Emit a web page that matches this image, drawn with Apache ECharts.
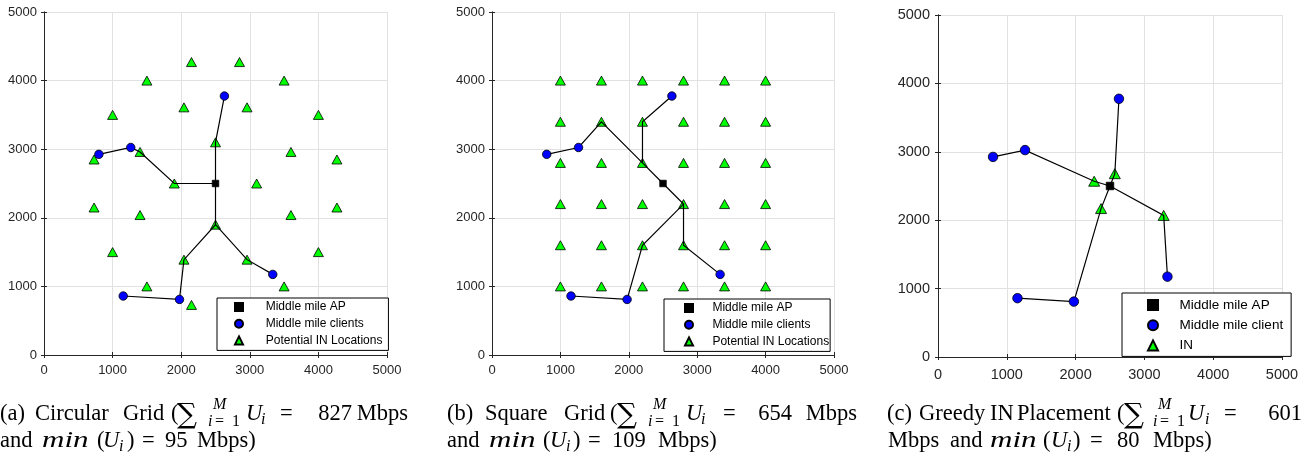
<!DOCTYPE html>
<html><head><meta charset="utf-8">
<script src="https://cdn.jsdelivr.net/npm/echarts@6/dist/echarts.min.js"></script>
<style>html,body{margin:0;padding:0;background:#fff}#c{width:1307px;height:456px}</style>
</head><body><div id="c"></div>
<script>
// ---------------- data ----------------
const axisTicks = [0, 1000, 2000, 3000, 4000, 5000];
const apPos = [[2500, 2500]];
const clientPos = [[2630, 3775], [1265, 3025], [800, 2925], [3335, 1175], [1155, 860], [1975, 810]];

const circularIN = [
  [2150, 4270], [2850, 4270], [1500, 4000], [3500, 4000], [1000, 3500], [4000, 3500],
  [2040, 3610], [2960, 3610], [2500, 3100], [1400, 2960], [3600, 2960], [730, 2850],
  [4270, 2850], [1900, 2500], [3100, 2500], [730, 2150], [4270, 2150], [1400, 2040],
  [3600, 2040], [2500, 1900], [1000, 1500], [4000, 1500], [2040, 1390], [2960, 1390],
  [1500, 1000], [3500, 1000], [2150, 730], [2850, 730]
];
const circularLinks = [
  [[2500, 2500], [1900, 2500], [1400, 2960], [1265, 3025], [800, 2925]],
  [[2500, 2500], [2500, 3100], [2630, 3775]],
  [[2500, 2500], [2500, 1900], [2040, 1390], [1975, 810], [1155, 860]],
  [[2500, 1900], [2960, 1390], [3335, 1175]]
];

const squareIN = [
  [1000, 1000], [1600, 1000], [2200, 1000], [2800, 1000], [3400, 1000], [4000, 1000],
  [1000, 1600], [1600, 1600], [2200, 1600], [2800, 1600], [3400, 1600], [4000, 1600],
  [1000, 2200], [1600, 2200], [2200, 2200], [2800, 2200], [3400, 2200], [4000, 2200],
  [1000, 2800], [1600, 2800], [2200, 2800], [2800, 2800], [3400, 2800], [4000, 2800],
  [1000, 3400], [1600, 3400], [2200, 3400], [2800, 3400], [3400, 3400], [4000, 3400],
  [1000, 4000], [1600, 4000], [2200, 4000], [2800, 4000], [3400, 4000], [4000, 4000]
];
const squareLinks = [
  [[800, 2925], [1265, 3025], [1600, 3400], [2200, 2800], [2500, 2500]],
  [[2200, 2800], [2200, 3400], [2630, 3775]],
  [[2500, 2500], [2800, 2200], [2200, 1600], [1975, 810], [1155, 860]],
  [[2800, 2200], [2800, 1600], [3335, 1175]]
];

const greedyIN = [[2270, 2570], [2570, 2680], [2370, 2170], [3280, 2070]];
const greedyLinks = [
  [[800, 2925], [1265, 3025], [2270, 2570], [2500, 2500], [3280, 2070], [3335, 1175]],
  [[1155, 860], [1975, 810], [2370, 2170], [2500, 2500]],
  [[2500, 2500], [2570, 2680], [2630, 3775]]
];

const namesAB = ['Middle mile AP', 'Middle mile clients', 'Potential IN Locations'];
const namesC = ['Middle mile AP', 'Middle mile client', 'IN'];

// captions: [text, x, kind, align]
const captionA1 = [['(a)', 0, 'rm'], ['Circular', 35, 'rm'], ['Grid', 123, 'rm'], ['(', 171, 'rm'], ['\u2211', 177, 'sum'],
  ['M', 213, 'sup'], ['i', 208, 'subit'], ['=', 215, 'sub'], ['1', 232, 'sub'], ['U', 246, 'it'], ['i', 261, 'subU'],
  ['=', 280, 'rm'], ['827', 352, 'rm', 'right'], ['Mbps', 408, 'rm', 'right']];
const captionA2 = [['and', 0, 'rm'], ['min', 42, 'mi'], ['(', 97, 'rm'], ['U', 103, 'it'], ['i', 119, 'sub2'], [')', 127, 'rm'],
  ['=', 142, 'rm'], ['95', 165, 'rm'], ['Mbps)', 197, 'rm']];
const captionB1 = [['(b)', 447, 'rm'], ['Square', 485, 'rm'], ['Grid', 564, 'rm'], ['(', 610, 'rm'], ['\u2211', 617, 'sum'],
  ['M', 653, 'sup'], ['i', 648, 'subit'], ['=', 655, 'sub'], ['1', 672, 'sub'], ['U', 686, 'it'], ['i', 701, 'subU'],
  ['=', 723, 'rm'], ['654', 792, 'rm', 'right'], ['Mbps', 857, 'rm', 'right']];
const captionB2 = [['and', 447, 'rm'], ['min', 489, 'mi'], ['(', 543, 'rm'], ['U', 550, 'it'], ['i', 566, 'sub2'], [')', 573, 'rm'],
  ['=', 588, 'rm'], ['109', 612, 'rm'], ['Mbps)', 658, 'rm']];
const captionC1 = [['(c)', 887, 'rm'], ['Greedy', 919, 'rm'], ['IN', 990, 'rm'], ['Placement', 1017, 'rm'], ['(', 1117, 'rm'], ['\u2211', 1124, 'sum'],
  ['M', 1158, 'sup'], ['i', 1153, 'subit'], ['=', 1160, 'sub'], ['1', 1177, 'sub'], ['U', 1188, 'it'], ['i', 1205, 'subU'],
  ['=', 1224, 'rm'], ['601', 1302, 'rm', 'right']];
const captionC2 = [['Mbps', 888, 'rm'], ['and', 950, 'rm'], ['min', 990, 'mi'], ['(', 1043, 'rm'], ['U', 1051, 'it'], ['i', 1067, 'sub2'], [')', 1073, 'rm'],
  ['=', 1090, 'rm'], ['80', 1117, 'rm'], ['Mbps)', 1153, 'rm']];

// ---------------- layout / style ----------------
const grids = [
  { left: 44, top: 12, width: 343, height: 343 },
  { left: 492, top: 12, width: 342, height: 343 },
  { left: 938, top: 15, width: 344, height: 342 }
];
const tickFont = [13, 13, 14.5];
const labelMargin = [[9, 7], [9, 7], [10, 8]];
const AX = '#262626';

const xAxes = [], yAxes = [];
grids.forEach((g, i) => {
  const common = { gridIndex: i, type: 'value', min: axisTicks[0], max: axisTicks[axisTicks.length - 1], interval: 1000 };
  const lineSt = { show: true, lineStyle: { color: AX, width: 1 } };
  const tick = { show: true, inside: true, length: 3, lineStyle: { color: AX, width: 1 } };
  const lab = { fontFamily: 'Liberation Sans', fontSize: tickFont[i], color: AX, formatter: v => String(v) };
  xAxes.push(Object.assign({}, common, { position: 'bottom', axisLine: lineSt, axisTick: tick,
    axisLabel: Object.assign({ margin: labelMargin[i][0] }, lab),
    splitLine: { show: true, lineStyle: { color: '#e1e1e1', width: 1 } } }));
  xAxes.push(Object.assign({}, common, { position: 'top', axisLine: lineSt, axisTick: tick,
    axisLabel: { show: false }, splitLine: { show: false } }));
  yAxes.push(Object.assign({}, common, { position: 'left', axisLine: lineSt, axisTick: tick,
    axisLabel: Object.assign({ margin: labelMargin[i][1] }, lab),
    splitLine: { show: true, lineStyle: { color: '#e1e1e1', width: 1 } } }));
  yAxes.push(Object.assign({}, common, { position: 'right', axisLine: lineSt, axisTick: tick,
    axisLabel: { show: false }, splitLine: { show: false } }));
});

function scatter(name, data, gi, symbol, size, color, z) {
  return { type: 'scatter', name, data, xAxisIndex: gi * 2, yAxisIndex: gi * 2, symbol, symbolSize: size,
    itemStyle: { color, borderColor: '#000', borderWidth: 0.8, opacity: 1 }, z, silent: true,
    emphasis: { disabled: true } };
}
function links(paths, gi) {
  return { type: 'lines', coordinateSystem: 'cartesian2d', xAxisIndex: gi * 2, yAxisIndex: gi * 2, polyline: true,
    data: paths.map(p => ({ coords: p })), lineStyle: { color: '#000', width: 1.2, opacity: 1 }, z: 3, silent: true };
}

const series = [
  scatter(namesAB[2], circularIN, 0, 'triangle', [10, 9], '#00ff00', 2),
  links(circularLinks, 0),
  scatter(namesAB[0], apPos, 0, 'rect', 6.5, '#000', 4),
  scatter(namesAB[1], clientPos, 0, 'circle', 8.5, '#0000ff', 5),

  scatter(namesAB[2], squareIN, 1, 'triangle', [10, 9], '#00ff00', 2),
  links(squareLinks, 1),
  scatter(namesAB[0], apPos, 1, 'rect', 6.5, '#000', 4),
  scatter(namesAB[1], clientPos, 1, 'circle', 8.5, '#0000ff', 5),

  scatter(namesC[2], greedyIN, 2, 'triangle', [11, 10], '#00ff00', 2),
  links(greedyLinks, 2),
  scatter(namesC[0], apPos, 2, 'rect', 7.5, '#000', 4),
  scatter(namesC[1], clientPos, 2, 'circle', 9.5, '#0000ff', 5)
];

function legend(names, left, top, icon, itemGap, padding, textPad, fontSize) {
  return { data: names, orient: 'vertical', left, top, itemWidth: icon, itemHeight: icon, itemGap, padding,
    borderColor: '#000', borderWidth: 1, backgroundColor: '#fff', selectedMode: false, z: 20,
    textStyle: { fontFamily: 'Liberation Sans', fontSize, color: '#000', padding: [0, 0, 0, textPad] } };
}

const KIND = {
  rm: { size: 22.5, style: 'normal', dy: 0, fam: 'Liberation Serif' },
  it: { size: 22.5, style: 'italic', dy: 0, fam: 'Liberation Serif' },
  mi: { size: 23, style: 'italic', dy: 0, fam: 'Liberation Serif', sx: 1.35 },
  sum: { size: 28, style: 'normal', dy: 3, fam: 'DejaVu Serif' },
  sup: { size: 16, style: 'italic', dy: -11, fam: 'Liberation Serif' },
  subit: { size: 16, style: 'italic', dy: 6, fam: 'Liberation Serif' },
  sub: { size: 16, style: 'normal', dy: 6, fam: 'Liberation Serif' },
  subU: { size: 16, style: 'italic', dy: 4, fam: 'Liberation Serif' },
  sub2: { size: 16, style: 'italic', dy: 4, fam: 'Liberation Serif' }
};
const graphics = [];
function addCaption(tokens, base) {
  tokens.forEach(t => {
    const k = KIND[t[2]];
    graphics.push({ type: 'text', x: t[1], y: base + k.dy - 0.305 * k.size, scaleX: k.sx || 1, silent: true,
      style: { text: t[0], fontFamily: k.fam, fontSize: k.size, fontStyle: k.style, fill: '#000',
        align: t[3] || 'left', textAlign: t[3] || 'left', verticalAlign: 'middle', textVerticalAlign: 'middle' } });
  });
}
addCaption(captionA1, 421); addCaption(captionA2, 448);
addCaption(captionB1, 421); addCaption(captionB2, 448);
addCaption(captionC1, 421); addCaption(captionC2, 448);

const chart = echarts.init(document.getElementById('c'), null, { renderer: 'canvas' });
chart.setOption({
  animation: false,
  backgroundColor: '#fff',
  grid: grids.map(g => Object.assign({ containLabel: false }, g)),
  xAxis: xAxes,
  yAxis: yAxes,
  legend: [
    legend(namesAB, 217, 298, 8, 4.7, [3, 6, 4, 17], 17.7, 12),
    legend(namesAB, 664, 299, 8, 4.7, [3, 1, 4, 20], 14.4, 12),
    legend(namesC, 1122, 293, 10, 6.2, [5, 8, 4, 25], 16.6, 13.5)
  ],
  series,
  graphic: { elements: graphics }
});
</script></body></html>
